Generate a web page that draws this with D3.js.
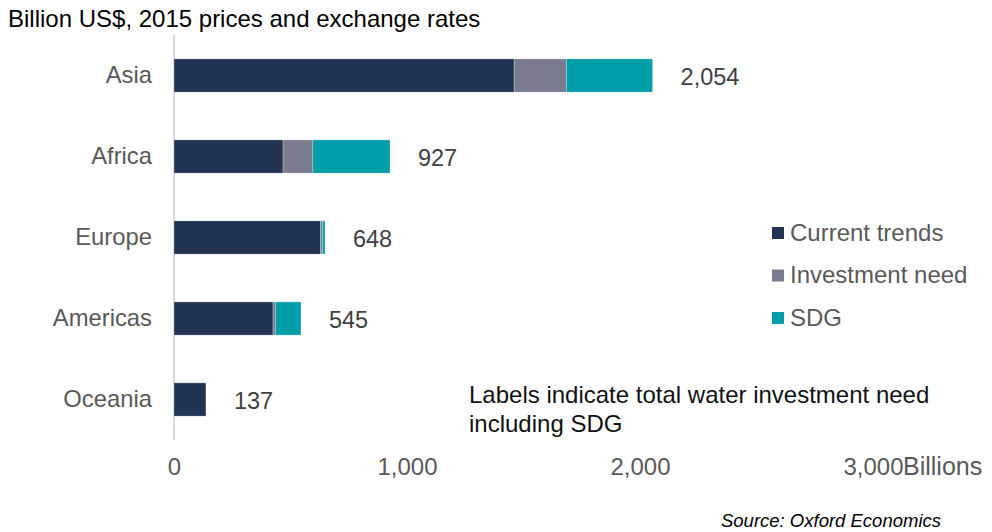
<!DOCTYPE html>
<html>
<head>
<meta charset="utf-8">
<script src="https://cdn.jsdelivr.net/npm/d3@7"></script>
<style>
  html, body { margin: 0; padding: 0; background: #fff; }
  svg { display: block; font-family: "Liberation Sans", Arial, sans-serif; }
</style>
</head>
<body>
<svg id="chart" width="992" height="532"></svg>
<script>
const categories = ["Asia", "Africa", "Europe", "Americas", "Oceania"];
const currentTrends = [1460, 468, 629, 425, 137];
const investmentNeed = [224, 128, 8, 10, 0];
const sdg = [370, 331, 11, 110, 0];
const totalLabels = ["2,054", "927", "648", "545", "137"];
const seriesNames = ["Current trends", "Investment need", "SDG"];
const xTicks = [0, 1000, 2000, 3000];

const colors = ["#233452", "#7a7b8e", "#009ea8"];

const svg = d3.select("#chart");
const x = d3.scaleLinear().domain([0, 3000]).range([174, 873]);
const y = d3.scaleBand().domain(categories).range([35, 440]).paddingInner(0.59).paddingOuter(0.295);

const rows = categories.map((c, i) => ({
  cat: c, "Current trends": currentTrends[i], "Investment need": investmentNeed[i], "SDG": sdg[i], label: totalLabels[i]
}));
const stacked = d3.stack().keys(seriesNames)(rows);

// axis line
svg.append("line").attr("x1", x(0)).attr("x2", x(0)).attr("y1", 35).attr("y2", 440)
  .attr("stroke", "#d9d9d9").attr("stroke-width", 2);

// bars
svg.append("g").selectAll("g").data(stacked).join("g")
  .attr("fill", (d, i) => colors[i])
  .selectAll("rect").data(d => d).join("rect")
  .attr("x", d => x(d[0]))
  .attr("y", d => y(d.data.cat))
  .attr("width", d => Math.max(0, x(d[1]) - x(d[0])))
  .attr("height", y.bandwidth())
  .attr("stroke", "#ffffff").attr("stroke-opacity", 0.35).attr("stroke-width", 0.75);

// category labels
const yAxis = d3.axisLeft(y).tickSize(0).tickPadding(0);
const gy = svg.append("g").attr("transform", `translate(152,0)`).call(yAxis);
gy.select(".domain").remove();
gy.selectAll("text").attr("font-size", 23.8).attr("fill", "#595959")
  .attr("font-family", "Liberation Sans, Arial, sans-serif");

// x axis labels
const xAxis = d3.axisBottom(x).tickValues(xTicks).tickSize(0).tickPadding(0).tickFormat(d3.format(","));
const gx = svg.append("g").attr("transform", `translate(0,458)`).call(xAxis);
gx.select(".domain").remove();
gx.selectAll("text").attr("font-size", 24).attr("fill", "#595959")
  .attr("font-family", "Liberation Sans, Arial, sans-serif").attr("dy", "0.71em");
svg.append("text").attr("x", x(3000) + 30).attr("y", 475).attr("font-size", 25)
  .attr("fill", "#595959").text("Billions");

// total labels
svg.append("g").selectAll("text").data(rows).join("text")
  .attr("x", (d, i) => x(currentTrends[i] + investmentNeed[i] + sdg[i]) + 28)
  .attr("y", d => y(d.cat) + y.bandwidth() / 2)
  .attr("dy", "0.42em")
  .attr("font-size", 23.5).attr("fill", "#404040")
  .text(d => d.label);

// title
svg.append("text").attr("x", 8).attr("y", 27).attr("font-size", 24).attr("fill", "#000")
  .text("Billion US$, 2015 prices and exchange rates");

// legend
const lg = svg.append("g").selectAll("g").data(seriesNames).join("g")
  .attr("transform", (d, i) => `translate(772,${232 + i * 42.5})`);
lg.append("rect").attr("x", 0).attr("y", -5).attr("width", 12).attr("height", 12)
  .attr("fill", (d, i) => colors[i]);
lg.append("text").attr("x", 18).attr("y", 0).attr("dy", "0.36em").attr("font-size", 24)
  .attr("fill", "#595959").text(d => d);

// annotation
const ann = svg.append("text").attr("font-size", 24).attr("fill", "#111");
ann.append("tspan").attr("x", 469).attr("y", 403).text("Labels indicate total water investment need");
ann.append("tspan").attr("x", 469).attr("y", 432).text("including SDG");

// source
svg.append("text").attr("x", 941).attr("y", 527).attr("text-anchor", "end")
  .attr("font-size", 18.5).attr("font-style", "italic").attr("fill", "#000")
  .text("Source: Oxford Economics");
</script>
</body>
</html>
